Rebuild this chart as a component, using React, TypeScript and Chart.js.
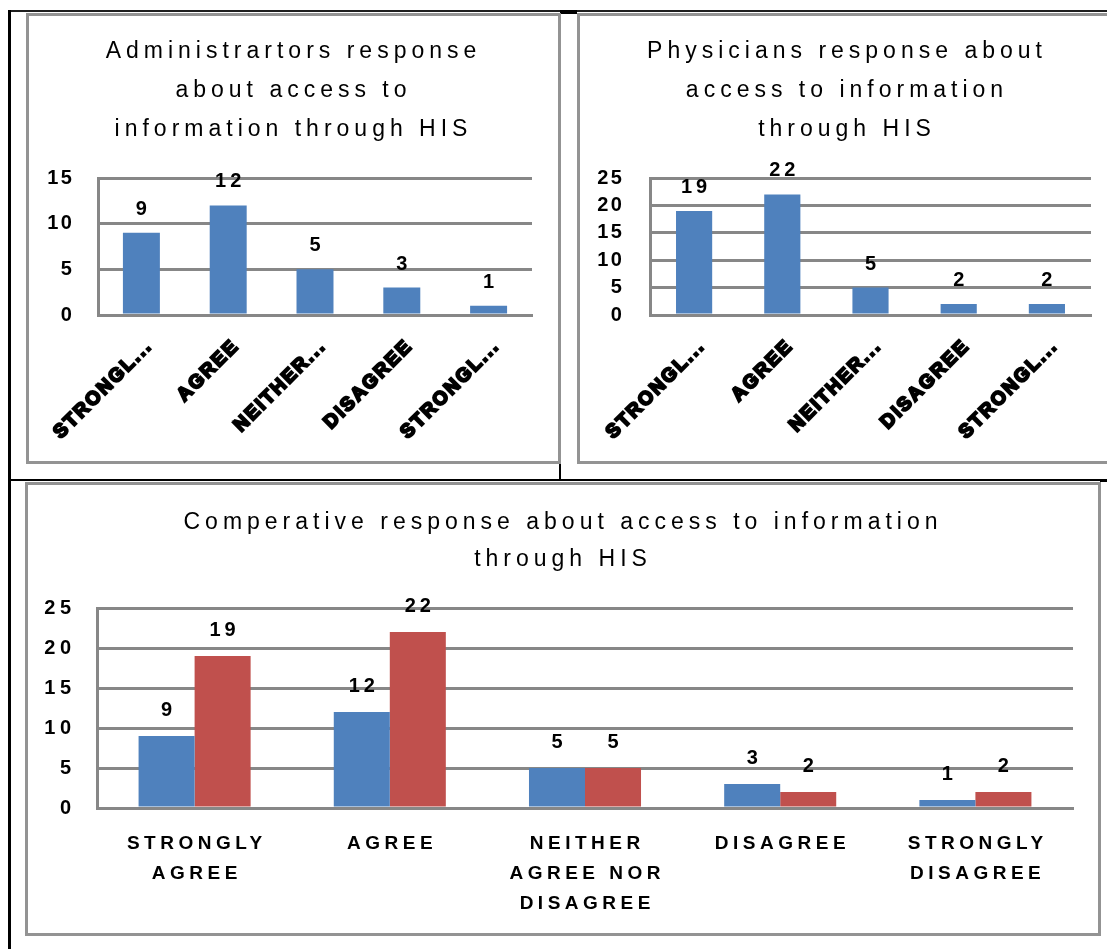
import React, { useEffect, useRef } from 'react';
import { Chart, registerables } from 'chart.js';

Chart.register(...registerables);

// ---- data ----
const categories = ['STRONGLY AGREE', 'AGREE', 'NEITHER AGREE NOR DISAGREE', 'DISAGREE', 'STRONGLY DISAGREE'];
const comparativeTickLines = [['STRONGLY', 'AGREE'], ['AGREE'], ['NEITHER', 'AGREE NOR', 'DISAGREE'], ['DISAGREE'], ['STRONGLY', 'DISAGREE']];
const administratorCounts = [9, 12, 5, 3, 1];
const physicianCounts = [19, 22, 5, 2, 2];
const adminTicks = [0, 5, 10, 15];
const physicianTicks = [0, 5, 10, 15, 20, 25];
const comparativeTicks = [0, 5, 10, 15, 20, 25];
const adminTitle = ['Administrartors response', 'about access to', 'information through HIS'];
const physicianTitle = ['Physicians response about', 'access to information', 'through HIS'];
const comparativeTitle = ['Comperative response about access to information', 'through HIS'];
const seriesNames = ['Administrators', 'Physicians'];

// ---- styling ----
const FONT = "'Liberation Sans', Arial, sans-serif";
const BLUE = '#4f81bd';
const RED = '#c0504d';
const GRID = '#878787';
const FRAME = '#939393';
const TITLE_SPACING = 5;
const VALUE_SPACING = 4;

const shorten = (label: string) => (label.length > 8 ? label.slice(0, 7) + '...' : label);

// Canvas letter spacing: titles are drawn first, tick labels (z = 1) after the bars
function spacingPlugin(titleSpacing: number, tickSpacing: number) {
  return {
    id: 'letterSpacing',
    beforeUpdate(chart: any) { chart.ctx.letterSpacing = titleSpacing + 'px'; },
    beforeDraw(chart: any) { chart.ctx.letterSpacing = titleSpacing + 'px'; },
    afterDatasetsDraw(chart: any) { chart.ctx.letterSpacing = tickSpacing + 'px'; },
    afterDraw(chart: any) { chart.ctx.letterSpacing = titleSpacing + 'px'; },
  };
}

// Value printed above every bar
function valueLabelPlugin(gap: number, size: number) {
  return {
    id: 'valueLabels',
    afterDatasetsDraw(chart: any) {
      const ctx = chart.ctx;
      ctx.save();
      ctx.letterSpacing = VALUE_SPACING + 'px';
      ctx.font = `bold ${size}px ${FONT}`;
      ctx.fillStyle = '#000';
      ctx.textAlign = 'center';
      ctx.textBaseline = 'alphabetic';
      chart.data.datasets.forEach((ds: any, i: number) => {
        const meta = chart.getDatasetMeta(i);
        meta.data.forEach((bar: any, j: number) => {
          ctx.fillText(String(ds.data[j]), bar.x + VALUE_SPACING / 2, bar.y - gap);
        });
      });
      ctx.restore();
    },
  };
}

function yScale(ticks: number[], width: number, padding: number) {
  return {
    min: ticks[0],
    max: ticks[ticks.length - 1],
    ticks: {
      z: 1,
      stepSize: ticks[1] - ticks[0],
      padding,
      color: '#000',
      font: { family: FONT, size: 20, weight: 'bold' },
    },
    grid: { color: GRID, lineWidth: 3, drawTicks: false },
    border: { color: GRID, width: 3 },
    afterFit: (s: any) => { s.width = width; },
  };
}

// Empty right-hand box that keeps the plot clear of the frame while the title stays centred
function rightGutter(width: number) {
  return {
    position: 'right',
    display: true,
    grid: { display: false, drawTicks: false },
    border: { display: false },
    ticks: { display: false },
    afterFit: (s: any) => { s.width = width; },
  };
}

function singleConfig(values: number[], ticks: number[], title: string[], opts: any) {
  return {
    type: 'bar',
    data: {
      labels: categories,
      datasets: [{
        label: seriesNames[opts.series],
        data: values,
        backgroundColor: BLUE,
        borderWidth: 0,
        categoryPercentage: opts.barFrac,
        barPercentage: 1,
      }],
    },
    options: {
      animation: false,
      responsive: false,
      maintainAspectRatio: false,
      layout: { padding: 0 },
      plugins: {
        legend: { display: false },
        tooltip: { enabled: false },
        title: {
          display: true,
          text: title,
          color: '#000',
          font: { family: FONT, size: 23, weight: 'normal', lineHeight: '39px' },
          padding: { top: 16.5, bottom: 28.5 },
        },
      },
      scales: {
        x: {
          grid: { display: false, drawTicks: false },
          border: { color: GRID, width: 3 },
          ticks: {
            z: 1,
            autoSkip: false,
            minRotation: 45,
            maxRotation: 45,
            padding: 20,
            labelOffset: 8,
            color: '#000',
            textStrokeColor: '#000',
            textStrokeWidth: 2.2,
            font: { family: FONT, size: 19, weight: 'bold' },
            callback: (_v: any, i: number) => shorten(categories[i]),
          },
          afterFit: (s: any) => {
            s.height = opts.xHeight;
            s.paddingLeft = 0;
            s.paddingRight = 0;
          },
        },
        y: yScale(ticks, opts.yWidth, opts.yPad),
        gutter: rightGutter(opts.pad),
      },
    },
    plugins: [spacingPlugin(TITLE_SPACING, 2.2), valueLabelPlugin(18, 20)],
  };
}

function comparativeConfig() {
  return {
    type: 'bar',
    data: {
      labels: categories,
      datasets: [
        { label: seriesNames[0], data: administratorCounts, backgroundColor: BLUE, borderWidth: 0, categoryPercentage: 0.574, barPercentage: 1 },
        { label: seriesNames[1], data: physicianCounts, backgroundColor: RED, borderWidth: 0, categoryPercentage: 0.574, barPercentage: 1 },
      ],
    },
    options: {
      animation: false,
      responsive: false,
      maintainAspectRatio: false,
      layout: { padding: 0 },
      plugins: {
        legend: { display: false },
        tooltip: { enabled: false },
        title: {
          display: true,
          text: comparativeTitle,
          color: '#000',
          font: { family: FONT, size: 23, weight: 'normal', lineHeight: '37px' },
          padding: { top: 19.5, bottom: 29.5 },
        },
      },
      scales: {
        x: {
          grid: { display: false, drawTicks: false },
          border: { color: GRID, width: 3 },
          ticks: {
            z: 1,
            autoSkip: false,
            minRotation: 0,
            maxRotation: 0,
            padding: 21,
            labelOffset: 2.25,
            color: '#000',
            font: { family: FONT, size: 19, weight: 'bold', lineHeight: '30px' },
            callback: (_v: any, i: number) => comparativeTickLines[i],
          },
          afterFit: (s: any) => {
            s.height = 125;
            s.paddingLeft = 0;
            s.paddingRight = 0;
          },
        },
        y: yScale(comparativeTicks, 69, 21.5),
        gutter: rightGutter(25),
      },
    },
    plugins: [spacingPlugin(TITLE_SPACING, 4.5), valueLabelPlugin(20, 20)],
  };
}

function ChartBox(props: { left: number; top: number; width: number; height: number; make: () => any }) {
  const ref = useRef<HTMLCanvasElement>(null);
  const innerW = props.width - 6;
  const innerH = props.height - 6;
  useEffect(() => {
    const chart = new Chart(ref.current as HTMLCanvasElement, props.make());
    return () => chart.destroy();
  }, []);
  return (
    <div
      style={{
        position: 'absolute',
        left: props.left,
        top: props.top,
        width: props.width,
        height: props.height,
        boxSizing: 'border-box',
        border: `3px solid ${FRAME}`,
        background: '#fff',
      }}
    >
      <canvas
        ref={ref}
        width={innerW}
        height={innerH}
        style={{ position: 'absolute', left: 0, top: 0, width: innerW, height: innerH, display: 'block' }}
      />
    </div>
  );
}

const line = (left: number, top: number, width: number, height: number, color = '#000') => (
  <div style={{ position: 'absolute', left, top, width, height, background: color }} />
);

export default function App() {
  return (
    <div
      style={{
        position: 'absolute',
        left: 0,
        top: 0,
        width: 1107,
        height: 949,
        overflow: 'hidden',
        background: '#fff',
      }}
    >
      {line(9, 10, 1098, 2, '#1e1e1e')}
      {line(8, 10, 3, 939)}
      {line(9, 479, 1098, 2)}
      {line(559, 462, 2, 19)}
      {line(560, 10, 17, 4)}
      {line(1100, 479, 7, 3)}
      <ChartBox
        left={26}
        top={13}
        width={535}
        height={451}
        make={() => singleConfig(administratorCounts, adminTicks, adminTitle, { series: 0, barFrac: 0.426, pad: 26, xHeight: 146, yWidth: 69, yPad: 24 })}
      />
      <ChartBox
        left={577}
        top={13}
        width={540}
        height={451}
        make={() => singleConfig(physicianCounts, physicianTicks, physicianTitle, { series: 1, barFrac: 0.41, pad: 23, xHeight: 146, yWidth: 70, yPad: 26 })}
      />
      <ChartBox left={25} top={482} width={1076} height={454} make={comparativeConfig} />
    </div>
  );
}
